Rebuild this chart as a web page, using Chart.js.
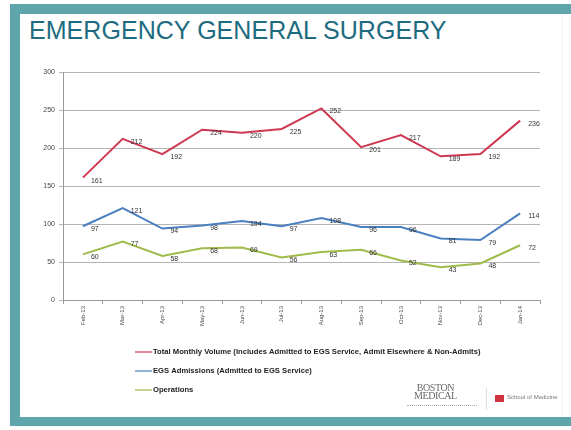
<!DOCTYPE html>
<html><head><meta charset="utf-8">
<script src="https://cdn.jsdelivr.net/npm/chart.js@4"></script>
<style>
html,body{margin:0;padding:0;width:571px;height:430px;overflow:hidden;background:#fff;}
#frame{position:absolute;left:10px;top:4px;width:561px;height:422px;background:#5ea6ab;}
#slide{position:absolute;left:20px;top:14px;width:551px;height:403px;background:#fff;}
#edge{position:absolute;left:562px;top:14px;width:1px;height:403px;background:#eef3f5;}
#title{position:absolute;left:29px;top:16px;font-family:"Liberation Sans",Arial,sans-serif;font-size:25px;color:#1e6b80;letter-spacing:0.05px;white-space:nowrap;}
#c{position:absolute;left:0;top:0;}
#bm{position:absolute;left:414px;top:384px;font-family:"Liberation Serif",serif;font-size:10px;line-height:8px;color:#6a6a6a;text-align:center;letter-spacing:-0.4px}
#bmsub{position:absolute;left:407px;top:405px;width:70px;height:1px;border-top:1px dotted #aaa;}
#div{position:absolute;left:486px;top:388px;width:1px;height:22px;background:#ddd;}
#bu{position:absolute;left:495px;top:395px;width:9px;height:7px;background:#d0323f;}
#som{position:absolute;left:507px;top:394px;font-family:"Liberation Sans",sans-serif;font-size:6px;color:#777;white-space:nowrap;}
</style></head>
<body>
<div id="frame"></div><div id="slide"></div><div id="edge"></div>
<div id="title">EMERGENCY GENERAL SURGERY</div>
<canvas id="c" width="571" height="430"></canvas>
<div id="bm">BOSTON<br>MEDICAL</div><div id="bmsub"></div>
<div id="div"></div><div id="bu"></div><div id="som">School of Medicine</div>
<script>
const months = ["Feb-13","Mar-13","Apr-13","May-13","Jun-13","Jul-13","Aug-13","Sep-13","Oct-13","Nov-13","Dec-13","Jan-14"];
const totalVolume = [161,212,192,224,220,225,252,201,217,189,192,236];
const egsAdmissions = [97,121,94,98,104,97,108,96,96,81,79,114];
const operations = [60,77,58,68,69,56,63,66,52,43,48,72];
const seriesNames = ["Total Monthly Volume (Includes Admitted to EGS Service, Admit Elsewhere & Non-Admits)","EGS Admissions (Admitted to EGS Service)","Operations"];
const seriesColors = ["#cf3852","#4a7fc0","#9fbb4a"];
const yTicks = [0,50,100,150,200,250,300];

const labelPlugin = {
  id:'labels',
  afterDatasetsDraw(chart){
    const ctx = chart.ctx;
    ctx.save();
    ctx.font = '7px "Liberation Sans", Arial, sans-serif';
    ctx.fillStyle = '#333';
    ctx.textAlign = 'left';
    ctx.textBaseline = 'middle';
    chart.data.datasets.forEach((ds,i)=>{
      const meta = chart.getDatasetMeta(i);
      meta.data.forEach((pt,j)=>{
        ctx.fillText(String(ds.data[j]), pt.x+8, pt.y+3);
      });
    });
    ctx.restore();
  }
};
const legendPlugin = {
  id:'vlegend',
  afterDraw(chart){
    const ctx = chart.ctx;
    ctx.save();
    ctx.font = 'bold 7.65px "Liberation Sans", Arial, sans-serif';
    ctx.textBaseline = 'middle';
    ctx.textAlign = 'left';
    chart.data.datasets.forEach((ds,i)=>{
      const y = 352 + i*19;
      ctx.strokeStyle = ds.borderColor;
      ctx.lineWidth = 1.2;
      ctx.beginPath(); ctx.moveTo(135,y); ctx.lineTo(152,y); ctx.stroke();
      ctx.fillStyle = '#222';
      ctx.fillText(ds.label, 153, y);
    });
    ctx.restore();
  }
};

const datasets = [totalVolume, egsAdmissions, operations].map((d,i)=>({
  label: seriesNames[i], data: d, borderColor: seriesColors[i], backgroundColor: seriesColors[i],
  borderWidth: 2, pointRadius: 0, tension: 0, fill:false
}));

new Chart(document.getElementById('c'), {
  type:'line',
  data:{labels: months, datasets},
  options:{
    responsive:false, animation:false, devicePixelRatio:1,
    layout:{padding:{left:20,right:31,top:72,bottom:90}},
    plugins:{legend:{display:false}, tooltip:{enabled:false}, title:{display:false}},
    scales:{
      x:{
        offset:true,
        grid:{display:true, drawOnChartArea:false, drawTicks:true, tickLength:4, color:'#999', offset:true},
        border:{display:true,color:'#999'},
        ticks:{minRotation:90,maxRotation:90, autoSkip:false, font:{size:6, family:'"Liberation Sans", Arial'}, color:'#444', padding:2},
        afterFit(s){ s.height = 40; }
      },
      y:{
        min:0,max:300,
        afterBuildTicks(s){ s.ticks = yTicks.map(v=>({value:v})); },
        grid:{color:'#b5b5b5', tickLength:4, drawTicks:true},
        border:{display:true,color:'#999'},
        ticks:{font:{size:7, family:'"Liberation Sans", Arial'}, color:'#444', padding:4},
        afterFit(s){ s.width = 43; }
      }
    }
  },
  plugins:[labelPlugin, legendPlugin]
});
</script>
</body></html>
